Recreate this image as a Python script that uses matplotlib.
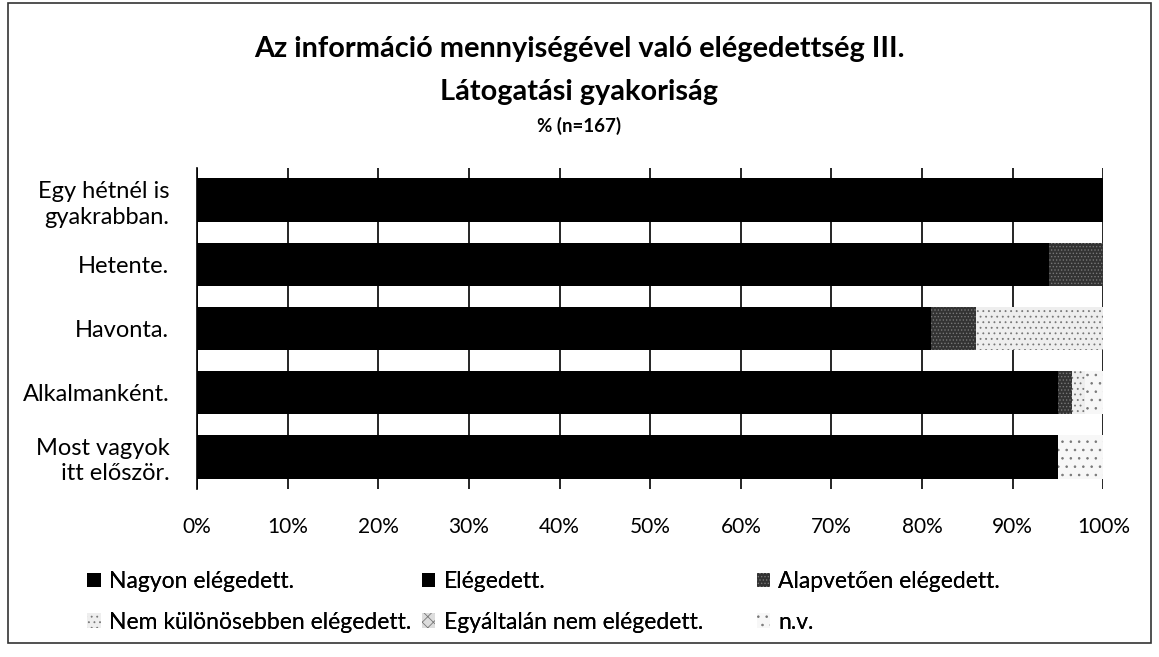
import matplotlib.pyplot as plt
from matplotlib.patches import Rectangle
import numpy as np

plt.rcParams['font.family'] = ['Lato', 'DejaVu Sans']
plt.rcParams['hatch.linewidth'] = 0.6

categories = ['Egy hétnél is\ngyakrabban.', 'Hetente.', 'Havonta.',
              'Alkalmanként.', 'Most vagyok\nitt először.']
series_names = ['Nagyon elégedett.', 'Elégedett.', 'Alapvetően elégedett.',
                'Nem különösebben elégedett.', 'Egyáltalán nem elégedett.', 'n.v.']
nagyon = [62, 56, 48, 57, 52]
elegedett = [38, 38, 33, 38, 43]
alapvetoen = [0, 6, 5, 1.5, 0]
nem_kulonosebben = [0, 0, 14, 1.5, 0]
egyaltalan = [0, 0, 0, 0, 0]
nv = [0, 0, 0, 2, 5]
xticks = [0, 10, 20, 30, 40, 50, 60, 70, 80, 90, 100]

series = [nagyon, elegedett, alapvetoen, nem_kulonosebben, egyaltalan, nv]
colors = ['#000000', '#000000', '#333333', '#eeeeee', '#dddddd', '#f7f7f7']
hatches = [None, None, '.....', '...', 'xxx', '..']

fig = plt.figure(figsize=(11.59, 6.57), dpi=100)
ax = fig.add_axes([0.170, 0.256, 0.782, 0.488])

y = np.arange(len(categories))
left = np.zeros(len(categories))
handles = []
for name, vals, c, h in zip(series_names, series, colors, hatches):
    vals = np.array(vals, dtype=float)
    b = ax.barh(y, vals, left=left, height=0.68, color=c, label=name,
                edgecolor='#777777' if h else c, linewidth=0, hatch=h, zorder=3)
    handles.append(b)
    left += vals

ax.set_ylim(len(categories) - 0.5, -0.5)
ax.set_xlim(0, 100)
ax.set_yticks(y)
ax.set_yticklabels(categories, fontsize=17, linespacing=1.25)
ax.set_xticks(xticks)
ax.set_xticklabels([f'{t}%' for t in xticks], fontsize=15)
ax.tick_params(axis='y', length=0, pad=20)
ax.tick_params(axis='x', length=0, pad=20)
ax.grid(axis='x', color='black', linewidth=1.2, zorder=0)
for s in ['top', 'right', 'bottom']:
    ax.spines[s].set_visible(False)
ax.spines['left'].set_linewidth(1.2)

fig.text(0.5, 0.926, 'Az információ mennyiségével való elégedettség III.',
         ha='center', va='center', fontsize=20.8, fontweight='bold')
fig.text(0.5, 0.860, 'Látogatási gyakoriság', ha='center', va='center',
         fontsize=20.8, fontweight='bold')
fig.text(0.5, 0.808, '% (n=167)', ha='center', va='center', fontsize=13.5,
         fontweight='bold')

# one small legend per column, placed like the original
columns = [([0, 3], 0.065), ([1, 4], 0.354), ([2, 5], 0.643)]
for idx, x0 in columns:
    leg = fig.legend([handles[i] for i in idx], [series_names[i] for i in idx],
                     loc='upper left', bbox_to_anchor=(x0, 0.148),
                     frameon=False, fontsize=16.5, handlelength=0.6,
                     handleheight=0.6, handletextpad=0.35, labelspacing=0.85,
                     borderpad=0)
    fig.add_artist(leg)

fig.add_artist(Rectangle((0.007, 0.022), 0.986, 0.973, transform=fig.transFigure,
                         fill=False, edgecolor='#333333', linewidth=1.2))

fig.savefig('out.png', dpi=100)
